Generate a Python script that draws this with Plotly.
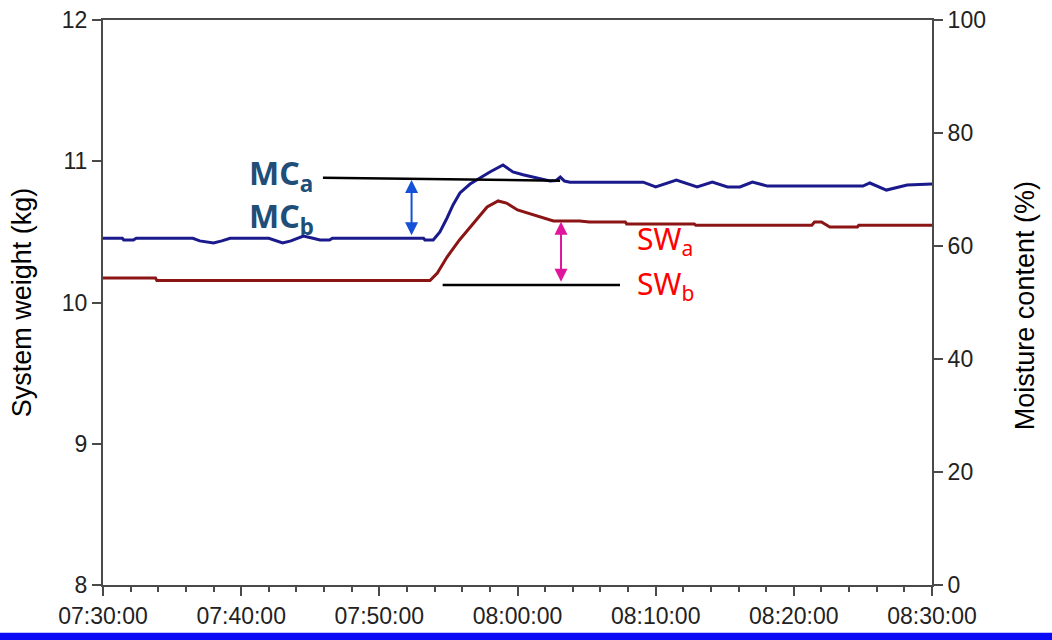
import pandas as pd
import plotly.graph_objects as go

DAY = "2020-01-01 "

# Moisture content (%) -> right axis
mc_time = ["07:30:00", "07:31:24", "07:31:30", "07:32:12", "07:32:24", "07:36:30", "07:37:00", "07:38:00",
           "07:38:36", "07:39:12", "07:42:00", "07:42:30", "07:43:00", "07:43:36", "07:44:30", "07:45:12",
           "07:45:42", "07:46:24", "07:46:36", "07:53:12", "07:53:18", "07:53:54", "07:54:23", "07:54:54",
           "07:55:20", "07:55:50", "07:56:34", "07:57:17", "07:58:00", "07:58:57", "07:59:40", "08:00:24",
           "08:01:24", "08:02:21", "08:02:48", "08:03:06", "08:03:24", "08:03:48", "08:09:06", "08:10:00",
           "08:11:30", "08:13:00", "08:14:06", "08:15:12", "08:16:06", "08:17:00", "08:18:06", "08:25:00",
           "08:25:30", "08:26:42", "08:28:12", "08:29:54", "08:30:00"]
mc_value = [61.36, 61.36, 61.06, 61.06, 61.36, 61.36, 60.9, 60.53,
            60.9, 61.36, 61.36, 60.9, 60.53, 60.9, 61.77, 61.36,
            61.06, 61.06, 61.36, 61.36, 61.06, 61.06, 62.48, 64.96,
            67.26, 69.38, 70.97, 72.04, 73.1, 74.34, 73.1, 72.6,
            72.0, 71.5, 71.6, 72.2, 71.5, 71.3, 71.3, 70.44,
            71.68, 70.44, 71.33, 70.44, 70.44, 71.33, 70.6, 70.6,
            71.15, 69.9, 70.8, 70.97, 70.97]

# System weight (kg) -> left axis
sw_time = ["07:30:00", "07:33:48", "07:33:54", "07:53:40", "07:54:12", "07:54:54", "07:55:48", "07:56:48",
           "07:57:48", "07:58:36", "07:59:12", "08:00:00", "08:00:54", "08:01:48", "08:02:36", "08:04:30",
           "08:05:12", "08:07:48", "08:07:54", "08:12:48", "08:12:54", "08:21:18", "08:21:30", "08:22:00",
           "08:22:36", "08:24:36", "08:24:42", "08:30:00"]
sw_value = [10.173, 10.173, 10.155, 10.155, 10.209, 10.322, 10.443, 10.563,
            10.676, 10.719, 10.704, 10.655, 10.627, 10.598, 10.577, 10.577,
            10.570, 10.570, 10.556, 10.556, 10.547, 10.547, 10.570, 10.570,
            10.535, 10.535, 10.547, 10.547]

x_ticks = ["07:30:00", "07:40:00", "07:50:00", "08:00:00", "08:10:00", "08:20:00", "08:30:00"]
y_title = "System weight (kg)"
y2_title = "Moisture content (%)"

# annotation anchors (time, value)
mca_line = (["07:45:55", "08:03:05"], [72.09, 71.56])
mc_arrow = ("07:52:20", [71.68, 61.65])
swb_line = (["07:54:35", "08:07:25"], [10.124, 10.124])
sw_arrow = ("08:03:09", [10.572, 10.136])


def t(s):
    return pd.to_datetime(DAY + s)


fig = go.Figure()
fig.add_trace(go.Scatter(x=[t(s) for s in mc_time], y=mc_value, yaxis="y2", mode="lines",
                         line=dict(color="#1a1a8c", width=3), showlegend=False))
fig.add_trace(go.Scatter(x=[t(s) for s in sw_time], y=sw_value, mode="lines",
                         line=dict(color="#8b1414", width=3), showlegend=False))

# black reference lines
fig.add_shape(type="line", xref="x", yref="y2", x0=t(mca_line[0][0]), x1=t(mca_line[0][1]),
              y0=mca_line[1][0], y1=mca_line[1][1], line=dict(color="black", width=2.5))
fig.add_shape(type="line", xref="x", yref="y", x0=t(swb_line[0][0]), x1=t(swb_line[0][1]),
              y0=swb_line[1][0], y1=swb_line[1][1], line=dict(color="black", width=2.5))

# double arrows
fig.add_annotation(x=t(mc_arrow[0]), y=mc_arrow[1][0], ax=t(mc_arrow[0]), ay=mc_arrow[1][1],
                   xref="x", yref="y2", axref="x", ayref="y2", text="", showarrow=True,
                   arrowhead=2, startarrowhead=2, arrowside="end+start", arrowsize=1.3,
                   startarrowsize=1.3, arrowwidth=2, arrowcolor="#1550d8")
fig.add_annotation(x=t(sw_arrow[0]), y=sw_arrow[1][0], ax=t(sw_arrow[0]), ay=sw_arrow[1][1],
                   xref="x", yref="y", axref="x", ayref="y", text="", showarrow=True,
                   arrowhead=2, startarrowhead=2, arrowside="end+start", arrowsize=1.3,
                   startarrowsize=1.3, arrowwidth=2, arrowcolor="#e0159b")

mc_font = dict(family="Noto Sans", size=32, color="#1f4e79")
sw_font = dict(family="Noto Sans", size=30, color="#ff0000")
fig.add_annotation(x=t("07:40:24"), y=72.5, xref="x", yref="y2", text="<b>MC<sub>a</sub></b>",
                   showarrow=False, xanchor="left", yanchor="middle", font=mc_font)
fig.add_annotation(x=t("07:40:24"), y=65.0, xref="x", yref="y2", text="<b>MC<sub>b</sub></b>",
                   showarrow=False, xanchor="left", yanchor="middle", font=mc_font)
fig.add_annotation(x=t("08:08:30"), y=10.44, xref="x", yref="y", text="SW<sub>a</sub>",
                   showarrow=False, xanchor="left", yanchor="middle", font=sw_font)
fig.add_annotation(x=t("08:08:30"), y=10.125, xref="x", yref="y", text="SW<sub>b</sub>",
                   showarrow=False, xanchor="left", yanchor="middle", font=sw_font)

# axis titles
title_font = dict(family="Arial, Liberation Sans", size=27, color="black")
fig.add_annotation(x=-0.098, y=0.5, xref="paper", yref="paper", text=y_title, textangle=-90,
                   showarrow=False, xanchor="center", yanchor="middle", font=title_font)
fig.add_annotation(x=1.112, y=0.495, xref="paper", yref="paper", text=y2_title, textangle=-90,
                   showarrow=False, xanchor="center", yanchor="middle", font=title_font)

# blue bar at the bottom of the picture
fig.add_shape(type="rect", xref="paper", yref="paper", x0=-0.13, x1=1.15,
              y0=-0.105, y1=-0.0845, fillcolor="#0a0af5", line=dict(width=0), layer="above")

axis_line = "#4a4a4a"
tick_font = dict(family="Arial, Liberation Sans", size=23, color="#222222")

fig.update_layout(
    width=1052, height=640,
    margin=dict(l=103, r=120, t=20, b=55, autoexpand=False),
    plot_bgcolor="white", paper_bgcolor="white",
    xaxis=dict(type="date", range=[t(x_ticks[0]), t(x_ticks[-1])],
               tickvals=[t(s) for s in x_ticks], ticktext=x_ticks,
               showgrid=False, zeroline=False, showline=True, linecolor=axis_line, linewidth=2,
               mirror=True, ticks="outside", ticklen=9, tickwidth=2, tickcolor=axis_line,
               tickfont=tick_font,
               minor=dict(dtick=120000, tick0=t(x_ticks[0]), ticks="outside", ticklen=5,
                          tickwidth=1.5, tickcolor=axis_line, showgrid=False)),
    yaxis=dict(range=[8, 12], dtick=1, showgrid=False, zeroline=False, showline=True,
               linecolor=axis_line, linewidth=2, ticks="outside", ticklen=9, tickwidth=2,
               tickcolor=axis_line, tickfont=tick_font),
    yaxis2=dict(range=[0, 100], dtick=20, overlaying="y", side="right", showgrid=False,
                zeroline=False, showline=True, linecolor=axis_line, linewidth=2, ticks="outside",
                ticklen=9, tickwidth=2, tickcolor=axis_line, tickfont=tick_font),
)

fig.write_html("out.html")
